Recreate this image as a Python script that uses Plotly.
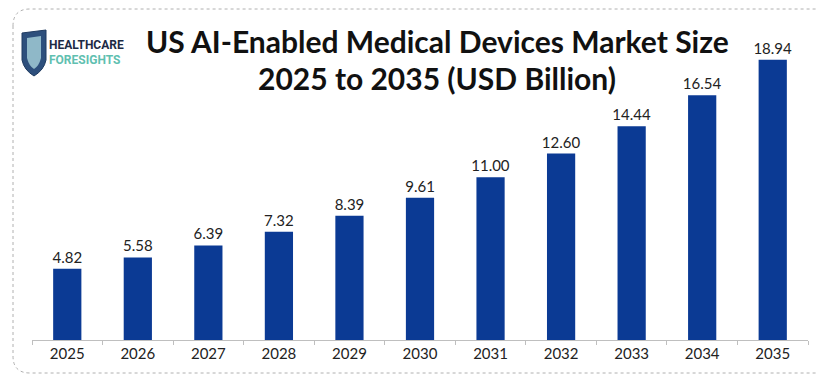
import plotly.graph_objects as go

years = ["2025", "2026", "2027", "2028", "2029", "2030", "2031", "2032", "2033", "2034", "2035"]
values = [4.82, 5.58, 6.39, 7.32, 8.39, 9.61, 11.00, 12.60, 14.44, 16.54, 18.94]
labels = ["4.82", "5.58", "6.39", "7.32", "8.39", "9.61", "11.00", "12.60", "14.44", "16.54", "18.94"]

W, H = 819, 376
L, R, T, B = 32, 11, 50, 36
fig = go.Figure(go.Bar(
    x=years, y=values, text=labels, textposition="outside",
    marker=dict(color="#0b3a94", line=dict(width=0)),
    textfont=dict(family="Lato, Open Sans, sans-serif", size=15, color="#222222"),
    constraintext="none",
    cliponaxis=False, width=0.4,
))

fig.update_layout(
    width=W, height=H,
    margin=dict(l=L, r=R, t=T, b=B),
    paper_bgcolor="white", plot_bgcolor="white",
    showlegend=False,
    xaxis=dict(showline=True, linecolor="#bfbfbf", linewidth=1, ticks="outside",
               tickson="boundaries", ticklen=4, tickcolor="#bfbfbf",
               tickfont=dict(family="Lato, Open Sans, sans-serif", size=15, color="#222222")),
    yaxis=dict(visible=False, range=[0, 19.6]),
    font=dict(family="Lato, sans-serif"),
)

def px(x):
    return (x - L) / (W - L - R)

def py(y):
    return (H - B - y) / (H - T - B)

# border
fig.add_shape(type="path", xref="paper", yref="paper",
              path=f"M {px(13)},{py(26)} Q {px(13)},{py(9)} {px(30)},{py(9)} L {px(816)},{py(9)} "
                   f"M {px(13)},{py(26)} L {px(13)},{py(356)} Q {px(13)},{py(373)} {px(30)},{py(373)} L {px(816)},{py(373)}",
              line=dict(color="#b0b0b0", width=1, dash="dot"))

# logo shield
fig.add_shape(type="path", xref="paper", yref="paper",
              path=f"M {px(22)},{py(33)} L {px(46)},{py(30)} L {px(46)},{py(60)} Q {px(44)},{py(70)} {px(34)},{py(76)} "
                   f"Q {px(24)},{py(70)} {px(22)},{py(60)} Z",
              fillcolor="#2d4f7c", line=dict(color="#1e3a60", width=1))
fig.add_shape(type="path", xref="paper", yref="paper",
              path=f"M {px(27)},{py(38)} L {px(41)},{py(36)} L {px(41)},{py(58)} Q {px(39)},{py(66)} {px(34)},{py(69)} "
                   f"Q {px(29)},{py(66)} {px(27)},{py(58)} Z",
              fillcolor="#8fb8c8", line=dict(width=0))

fig.add_annotation(xref="paper", yref="paper", x=px(47), y=py(45), xanchor="left", yanchor="middle",
                   text="<b>HEALTHCARE</b>", showarrow=False,
                   font=dict(family="Roboto, sans-serif", size=12, color="#1d2a44"))
fig.add_annotation(xref="paper", yref="paper", x=px(47), y=py(60), xanchor="left", yanchor="middle",
                   text="<b>FORESIGHTS</b>", showarrow=False,
                   font=dict(family="Roboto, sans-serif", size=12, color="#5fc0b0"))

# title
fig.add_annotation(xref="paper", yref="paper", x=px(437), y=py(41), xanchor="center", yanchor="middle",
                   text="<b>US AI-Enabled Medical Devices Market Size</b>", showarrow=False,
                   font=dict(family="Lato, Open Sans, sans-serif", size=30, color="#111111"))
fig.add_annotation(xref="paper", yref="paper", x=px(437), y=py(78), xanchor="center", yanchor="middle",
                   text="<b>2025 to 2035 (USD Billion)</b>", showarrow=False,
                   font=dict(family="Lato, Open Sans, sans-serif", size=30, color="#111111"))

fig.write_html("out.html")
